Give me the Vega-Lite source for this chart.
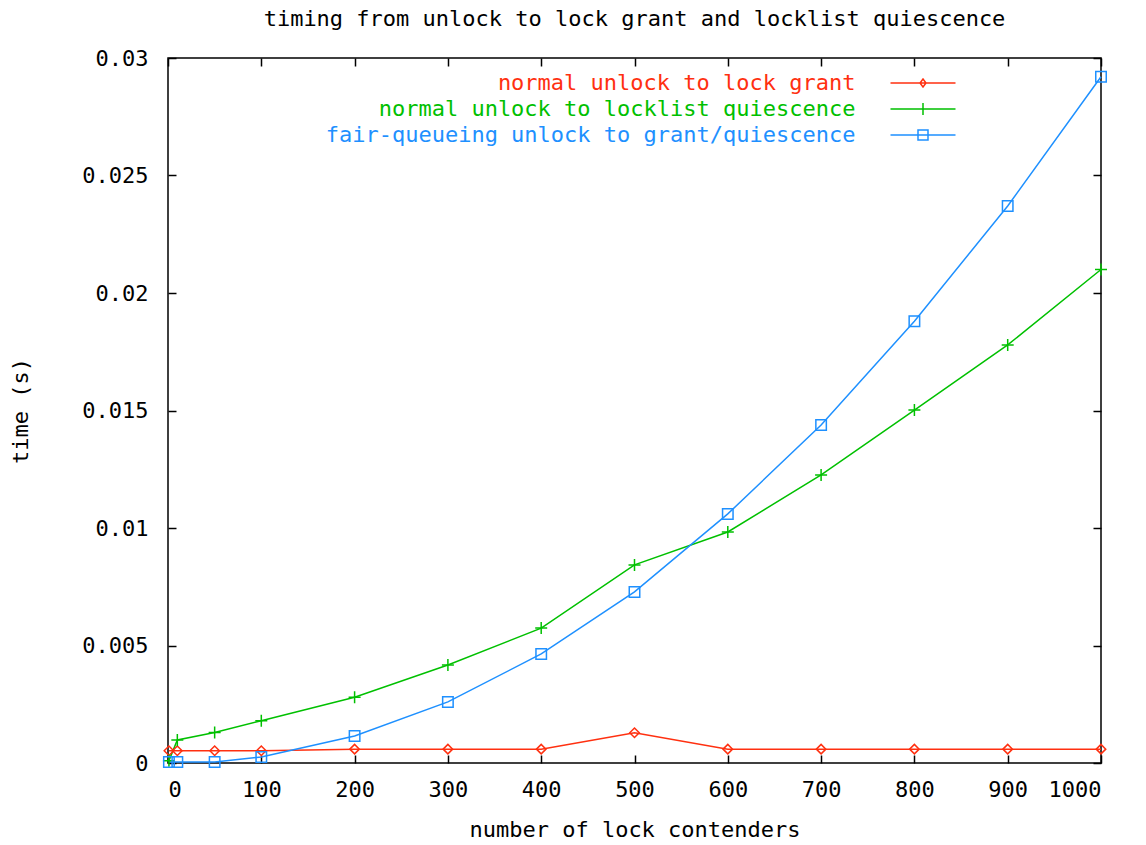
{
  "$schema": "https://vega.github.io/schema/vega-lite/v6.json",
  "width": 933,
  "height": 705,
  "autosize": {"type": "none"},
  "padding": {"left": 168, "top": 58, "right": 45, "bottom": 82},
  "background": "white",
  "title": {
    "text": "timing from unlock to lock grant and locklist quiescence",
    "font": "DejaVu Sans Mono",
    "fontSize": 22,
    "fontWeight": "normal",
    "color": "black",
    "anchor": "middle",
    "offset": 16
  },
  "datasets": {
    "timing": [
      {"n": 1, "series": "normal unlock to lock grant", "time": 0.00052},
      {"n": 10, "series": "normal unlock to lock grant", "time": 0.00052},
      {"n": 50, "series": "normal unlock to lock grant", "time": 0.00052},
      {"n": 100, "series": "normal unlock to lock grant", "time": 0.00052},
      {"n": 200, "series": "normal unlock to lock grant", "time": 0.00059},
      {"n": 300, "series": "normal unlock to lock grant", "time": 0.00059},
      {"n": 400, "series": "normal unlock to lock grant", "time": 0.00059},
      {"n": 500, "series": "normal unlock to lock grant", "time": 0.00129},
      {"n": 600, "series": "normal unlock to lock grant", "time": 0.00059},
      {"n": 700, "series": "normal unlock to lock grant", "time": 0.00059},
      {"n": 800, "series": "normal unlock to lock grant", "time": 0.00059},
      {"n": 900, "series": "normal unlock to lock grant", "time": 0.00059},
      {"n": 1000, "series": "normal unlock to lock grant", "time": 0.00059},
      {"n": 1, "series": "normal unlock to locklist quiescence", "time": 0.0001},
      {"n": 10, "series": "normal unlock to locklist quiescence", "time": 0.00098},
      {"n": 50, "series": "normal unlock to locklist quiescence", "time": 0.0013},
      {"n": 100, "series": "normal unlock to locklist quiescence", "time": 0.0018},
      {"n": 200, "series": "normal unlock to locklist quiescence", "time": 0.0028},
      {"n": 300, "series": "normal unlock to locklist quiescence", "time": 0.00417},
      {"n": 400, "series": "normal unlock to locklist quiescence", "time": 0.00574},
      {"n": 500, "series": "normal unlock to locklist quiescence", "time": 0.00843},
      {"n": 600, "series": "normal unlock to locklist quiescence", "time": 0.00983},
      {"n": 700, "series": "normal unlock to locklist quiescence", "time": 0.01226},
      {"n": 800, "series": "normal unlock to locklist quiescence", "time": 0.01502},
      {"n": 900, "series": "normal unlock to locklist quiescence", "time": 0.01779},
      {"n": 1000, "series": "normal unlock to locklist quiescence", "time": 0.0210},
      {"n": 1, "series": "fair-queueing unlock to grant/quiescence", "time": 0.00004},
      {"n": 10, "series": "fair-queueing unlock to grant/quiescence", "time": 0.00004},
      {"n": 50, "series": "fair-queueing unlock to grant/quiescence", "time": 0.00004},
      {"n": 100, "series": "fair-queueing unlock to grant/quiescence", "time": 0.00026},
      {"n": 200, "series": "fair-queueing unlock to grant/quiescence", "time": 0.00115},
      {"n": 300, "series": "fair-queueing unlock to grant/quiescence", "time": 0.0026},
      {"n": 400, "series": "fair-queueing unlock to grant/quiescence", "time": 0.00464},
      {"n": 500, "series": "fair-queueing unlock to grant/quiescence", "time": 0.00728},
      {"n": 600, "series": "fair-queueing unlock to grant/quiescence", "time": 0.0106},
      {"n": 700, "series": "fair-queueing unlock to grant/quiescence", "time": 0.01438},
      {"n": 800, "series": "fair-queueing unlock to grant/quiescence", "time": 0.0188},
      {"n": 900, "series": "fair-queueing unlock to grant/quiescence", "time": 0.0237},
      {"n": 1000, "series": "fair-queueing unlock to grant/quiescence", "time": 0.0292}
    ]
  },
  "data": {"name": "timing"},
  "layer": [
    {
      "mark": {"type": "line", "strokeWidth": 1.5},
      "encoding": {
        "x": {
          "field": "n", "type": "quantitative",
          "scale": {"domain": [0, 1000], "nice": false, "zero": false},
          "axis": {
            "orient": "bottom", "title": "number of lock contenders", "format": "d",
            "values": [0, 100, 200, 300, 400, 500, 600, 700, 800, 900, 1000],
            "tickSize": -8, "labelPadding": 24, "titlePadding": 19
          }
        },
        "y": {
          "field": "time", "type": "quantitative",
          "scale": {"domain": [0, 0.03], "nice": false, "zero": false},
          "axis": {
            "orient": "left", "title": "time (s)", "format": "~g",
            "values": [0, 0.005, 0.01, 0.015, 0.02, 0.025, 0.03],
            "tickSize": -8, "labelPadding": 28, "titlePadding": 49
          }
        },
        "color": {
          "field": "series", "type": "nominal",
          "scale": {
            "domain": ["normal unlock to lock grant", "normal unlock to locklist quiescence", "fair-queueing unlock to grant/quiescence"],
            "range": ["#ff3010", "#00c000", "#1e90ff"]
          },
          "legend": {
            "orient": "none", "legendX": 744, "legendY": 14,
            "title": null, "padding": 0,
            "labelAlign": "right", "labelOffset": -78.5, "labelLimit": 0,
            "labelFont": "DejaVu Sans Mono", "labelFontSize": 22,
            "symbolSize": 100, "symbolStrokeWidth": 1.5, "rowPadding": 4,
            "encode": {
              "labels": {"update": {"fill": {"signal": "scale('color', datum.value)"}}},
              "symbols": {"update": {
                "fill": {"value": "transparent"},
                "stroke": {"signal": "scale('color', datum.value)"},
                "strokeWidth": {"value": 1.5},
                "opacity": {"value": 1},
                "size": {"value": 100},
                "shape": {"signal": "datum.value === 'normal unlock to lock grant' ? 'M-6.5,0H6.5M0,-0.8L0.6,0L0,0.8L-0.6,0Z' : datum.value === 'normal unlock to locklist quiescence' ? 'M-6.5,0H6.5M0,-1.2V1.2' : 'M-6.5,0H6.5M-1,-1H1V1H-1Z'"}
              }}
            }
          }
        }
      }
    },
    {
      "transform": [{"filter": {"field": "series", "equal": "normal unlock to lock grant"}}],
      "mark": {"type": "point", "filled": false, "strokeWidth": 1.5, "opacity": 1, "shape": "diamond", "size": 90},
      "encoding": {
        "x": {
          "field": "n", "type": "quantitative",
          "axis": {"orient": "top", "title": null, "labels": false, "tickSize": -8, "domain": false,
            "values": [0, 100, 200, 300, 400, 500, 600, 700, 800, 900, 1000]}
        },
        "y": {
          "field": "time", "type": "quantitative",
          "axis": {"orient": "right", "title": null, "labels": false, "tickSize": -8, "domain": false,
            "values": [0, 0.005, 0.01, 0.015, 0.02, 0.025, 0.03]}
        },
        "color": {"field": "series", "type": "nominal"}
      }
    },
    {
      "transform": [{"filter": {"field": "series", "equal": "normal unlock to locklist quiescence"}}],
      "mark": {"type": "point", "filled": false, "strokeWidth": 1.5, "opacity": 1, "shape": "M-1,0H1M0,-1V1", "size": 144},
      "encoding": {
        "x": {"field": "n", "type": "quantitative", "axis": null},
        "y": {"field": "time", "type": "quantitative", "axis": null},
        "color": {"field": "series", "type": "nominal"}
      }
    },
    {
      "transform": [{"filter": {"field": "series", "equal": "fair-queueing unlock to grant/quiescence"}}],
      "mark": {"type": "point", "filled": false, "strokeWidth": 1.5, "opacity": 1, "shape": "square", "size": 110},
      "encoding": {
        "x": {"field": "n", "type": "quantitative", "axis": null},
        "y": {"field": "time", "type": "quantitative", "axis": null},
        "color": {"field": "series", "type": "nominal"}
      }
    }
  ],
  "resolve": {"axis": {"x": "independent", "y": "independent"}},
  "config": {
    "view": {"stroke": "black", "strokeWidth": 1.5},
    "axis": {
      "grid": false, "domain": false,
      "tickColor": "black", "tickWidth": 1.5,
      "labelFont": "DejaVu Sans Mono", "labelFontSize": 22, "labelColor": "black",
      "titleFont": "DejaVu Sans Mono", "titleFontSize": 22, "titleFontWeight": "normal", "titleColor": "black"
    }
  }
}
